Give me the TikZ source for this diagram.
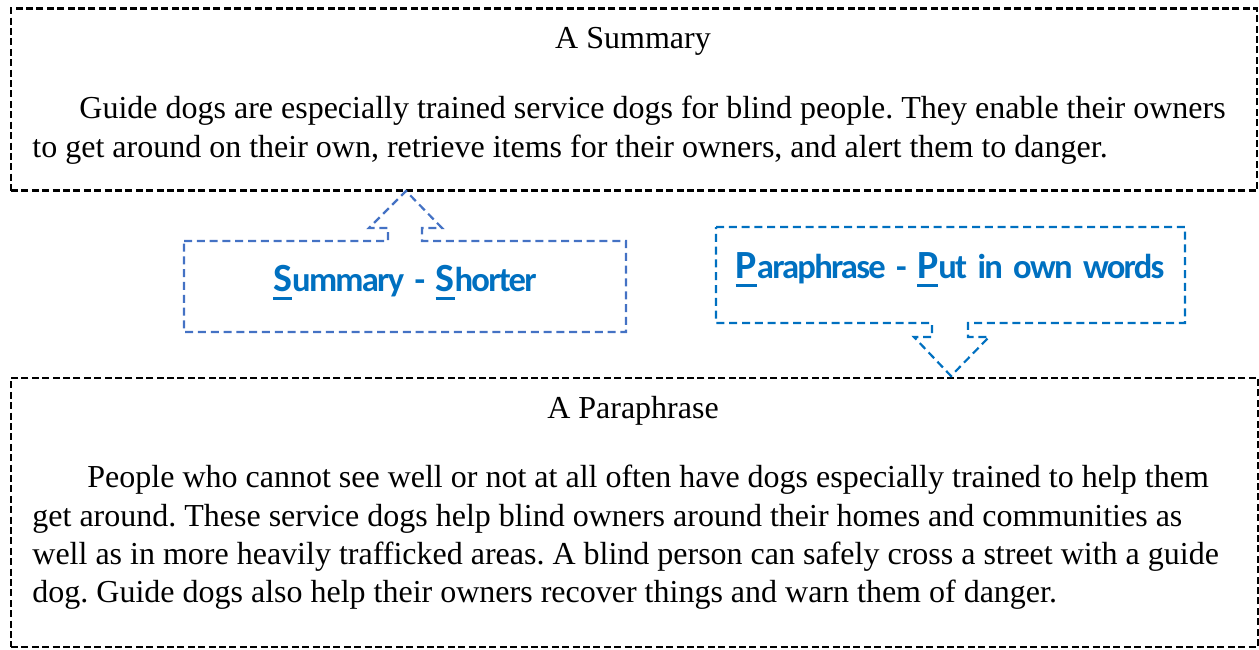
\documentclass[tikz,border=0pt]{standalone}
\usepackage{fontspec}
\setmainfont{Liberation Serif}
\newfontfamily\calibri[LetterSpace=-5,WordSpace=1.7]{Carlito}
\definecolor{ppblue}{HTML}{0070C0}
\definecolor{sumblue}{HTML}{4472C4}
\newcommand\firstul[1]{{\fontsize{20}{22}\selectfont\setbox0\hbox{#1}\rlap{\rule[-0.23em]{\wd0}{0.08em}}#1}}
\begin{document}
\frenchspacing
\begin{tikzpicture}[x=0.5pt, y=-0.5pt,
  box/.style={draw, line width=1.1pt, dash pattern=on 3.5pt off 1.7pt, inner sep=0pt},
  callout/.style={draw, line width=1.1pt, dash pattern=on 4pt off 2.4pt, line join=miter},
  txt/.style={anchor=base west, inner sep=0pt, font=\fontsize{16}{19}\selectfont},
  title/.style={anchor=base, inner sep=0pt, font=\fontsize{16}{19}\selectfont},
  tag/.style={anchor=base, inner sep=0pt, text=ppblue, font=\calibri\bfseries\fontsize{17.3}{22}\selectfont}]
\useasboundingbox (0,0) rectangle (1259,649);
% the two text boxes
\node[box, minimum width=623pt, minimum height=91pt] (summary) at (634,99.5) {};
\node[box, minimum width=623.5pt, minimum height=134.5pt] (paraphrase) at (634.5,512.5) {};
\node[title] (sumtitle) at (633,48) {A Summary};
\node[title] (paratitle) at (633,418) {A Paraphrase};
\foreach \x/\y/\line in {79/118/{Guide dogs are especially trained service dogs for blind people. They enable their owners},
                         32/157/{to get around on their own, retrieve items for their owners, and alert them to danger.},
                         87/487/{People who cannot see well or not at all often have dogs especially trained to help them},
                         32/526/{get around. These service dogs help blind owners around their homes and communities as},
                         32/564/{well as in more heavily trafficked areas. A blind person can safely cross a street with a guide},
                         32/602/{dog. Guide dogs also help their owners recover things and warn them of danger.}} {
  \node[txt] at (\x,\y) {\line};
}
% callouts with block arrows
\draw[callout, sumblue] (184,241) -- (388,241) -- (388,228) -- (369,228) -- (406,191) -- (442,228)
  -- (422,228) -- (422,241) -- (626,241) -- (626,332) -- (184,332) -- cycle;
\draw[callout, ppblue] (716,227) -- (1185,227) -- (1185,323) -- (968,323) -- (968,337) -- (989,337)
  -- (951,376) -- (914,337) -- (932,337) -- (932,323) -- (716,323) -- cycle;
\node[tag] (sumtag) at (405,291) {\firstul{S}ummary - \firstul{S}horter};
\node[tag] (paratag) at (950,278) {\firstul{P}araphrase - \firstul{P}ut in own words};
\end{tikzpicture}
\end{document}
